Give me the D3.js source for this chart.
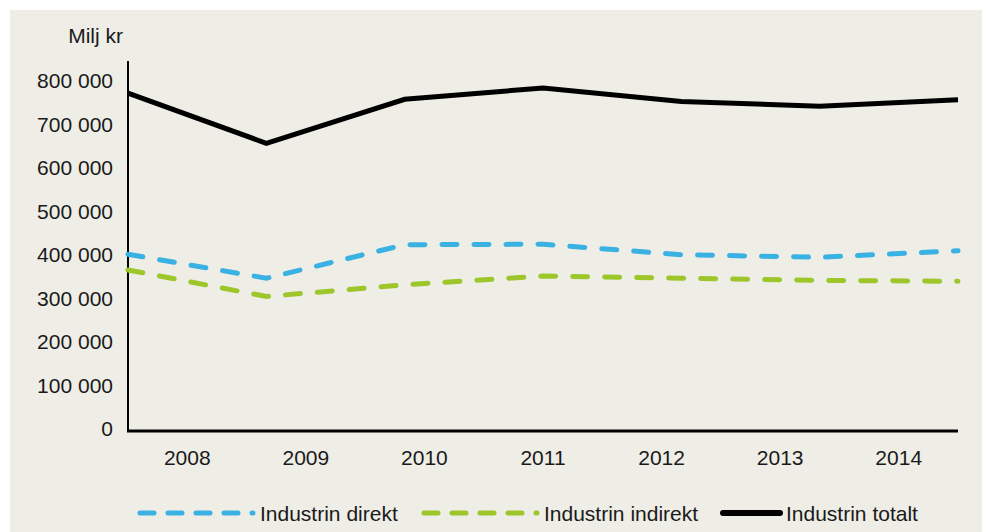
<!DOCTYPE html>
<html>
<head>
<meta charset="utf-8">
<script src="https://cdn.jsdelivr.net/npm/d3@7"></script>
<style>
  html, body { margin: 0; padding: 0; background: #ffffff; }
  svg { display: block; }
  text { font-family: "Liberation Sans", Arial, sans-serif; fill: #1a1a1a; }
</style>
</head>
<body>
<svg id="chart" width="982" height="532"></svg>
<script>
const years = ["2008", "2009", "2010", "2011", "2012", "2013", "2014"];
const direkt = [406000, 351000, 428000, 429000, 405000, 399000, 414000];
const indirekt = [370000, 309000, 336000, 356000, 351000, 346000, 344000];
const totalt = [776000, 661000, 762000, 788000, 757000, 746000, 761000];
const yTicks = [0, 100000, 200000, 300000, 400000, 500000, 600000, 700000, 800000];
const seriesNames = ["Industrin direkt", "Industrin indirekt", "Industrin totalt"];
const unitLabel = "Milj kr";

(function () {
const svg = d3.select("#chart");
const W = 982, H = 532;
const pLeft = 128, pRight = 958, pTop = 61, pBottom = 431;

svg.append("rect").attr("x", 10).attr("y", 10).attr("width", W - 10).attr("height", H - 10)
  .attr("fill", "#eeede6");

const y = d3.scaleLinear().domain([0, 850000]).range([pBottom, pTop]);
const xBand = d3.scaleBand().domain(years).range([pLeft, pRight]);
const xPt = d3.scalePoint().domain(years).range([pLeft, pRight]);

const fmt = v => d3.format(",")(v).replace(/,/g, " ");

const yAxis = svg.append("g").attr("transform", `translate(${pLeft},-2)`)
  .call(d3.axisLeft(y).tickValues(yTicks).tickSize(0).tickPadding(15).tickFormat(fmt));
yAxis.select(".domain").remove();
yAxis.selectAll("text").style("font-size", "21px").style("font-family", "'Liberation Sans', Arial, sans-serif").attr("fill", "#1a1a1a");

const xAxis = svg.append("g").attr("transform", `translate(0,${pBottom})`)
  .call(d3.axisBottom(xBand).tickSize(0).tickPadding(19));
xAxis.select(".domain").remove();
xAxis.selectAll("text").style("font-size", "21px").style("font-family", "'Liberation Sans', Arial, sans-serif").attr("fill", "#1a1a1a");

svg.append("line").attr("x1", pLeft).attr("x2", pLeft).attr("y1", y(850000)).attr("y2", pBottom + 1)
  .attr("stroke", "#000").attr("stroke-width", 2);
svg.append("line").attr("x1", pLeft - 1).attr("x2", pRight).attr("y1", pBottom).attr("y2", pBottom)
  .attr("stroke", "#000").attr("stroke-width", 3);

svg.append("text").attr("x", 123).attr("y", 43).attr("text-anchor", "end")
  .style("font-size", "21px").text(unitLabel);

const line = d3.line().x((d, i) => xPt(years[i])).y(d => y(d));

const series = [
  { name: seriesNames[0], values: direkt, color: "#3ab1e3", dash: "15 17", legDash: "14 14" },
  { name: seriesNames[1], values: indirekt, color: "#9dc62b", dash: "15 17", legDash: "14 14" },
  { name: seriesNames[2], values: totalt, color: "#000000", dash: null, legDash: null }
];

series.forEach(s => {
  svg.append("path").datum(s.values).attr("d", line)
    .attr("fill", "none").attr("stroke", s.color).attr("stroke-width", 5)
    .attr("stroke-linecap", s.dash ? "round" : "butt").attr("stroke-linejoin", "miter")
    .attr("stroke-dasharray", s.dash);
});

const legend = [
  { x1: 140, x2: 253, tx: 260 },
  { x1: 424, x2: 537, tx: 544 },
  { x1: 723, x2: 780, tx: 786 }
];
series.forEach((s, i) => {
  const L = legend[i];
  svg.append("line").attr("x1", L.x1).attr("x2", L.x2).attr("y1", 513).attr("y2", 513)
    .attr("stroke", s.color).attr("stroke-width", s.dash ? 5 : 6)
    .attr("stroke-linecap", "round").attr("stroke-dasharray", s.legDash);
  svg.append("text").attr("x", L.tx).attr("y", 520.5).style("font-size", "21px").text(s.name);
});
})();
</script>
</body>
</html>
